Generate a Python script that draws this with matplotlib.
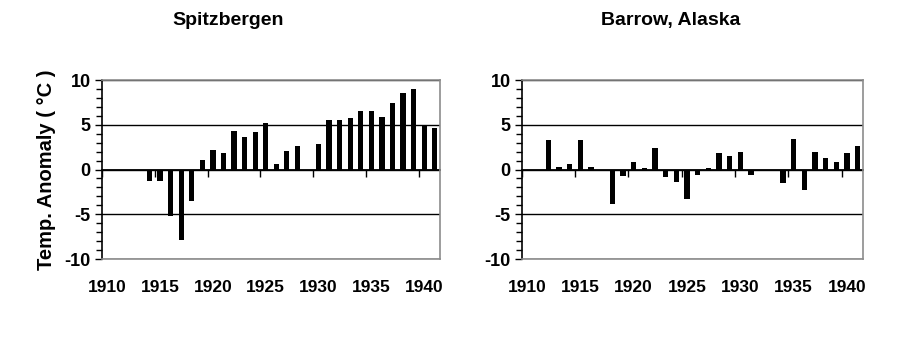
import numpy as np
import matplotlib
matplotlib.use("Agg")
import matplotlib.pyplot as plt
from matplotlib.ticker import MultipleLocator, NullFormatter

plt.rcParams['font.family'] = ['Liberation Sans', 'DejaVu Sans']
plt.rcParams['font.weight'] = 'bold'
plt.rcParams['axes.unicode_minus'] = False

years = list(range(1910, 1942))
nan = np.nan
spitzbergen = [nan, nan, nan, nan, -1.3, -1.3, -5.2, -7.9, -3.5, 1.1,
               2.2, 1.8, 4.3, 3.6, 4.2, 5.2, 0.6, 2.1, 2.6, -0.2,
               2.9, 5.5, 5.5, 5.8, 6.5, 6.5, 5.9, 7.4, 8.5, 9.0,
               5.0, 4.6]
barrow = [nan, nan, 3.3, 0.3, 0.6, 3.3, 0.3, -0.2, -3.8, -0.7,
          0.8, 0.15, 2.45, -0.8, -1.35, -3.3, -0.65, 0.15, 1.8, 1.5,
          1.95, -0.65, -0.2, 0.0, -1.5, 3.45, -2.3, 1.95, 1.25, 0.85,
          1.8, 2.6]
titles = ["Spitzbergen", "Barrow, Alaska"]
ylabel = "Temp. Anomaly ( °C )"
xlabels = [1910, 1915, 1920, 1925, 1930, 1935, 1940]
yticks = [-10, -5, 0, 5, 10]

fig = plt.figure(figsize=(9, 3.38), dpi=100)
fig.patch.set_facecolor('white')

rects = [[0.1133, 0.2337, 0.3756, 0.5296], [0.5797, 0.2337, 0.3792, 0.5296]]
title_x = [228 / 900, 671 / 900]
series = [spitzbergen, barrow]
grey = '#8c8c8c'
fs = 12.5

for i, (rect, vals) in enumerate(zip(rects, series)):
    ax = fig.add_axes(rect)
    ax.set_axisbelow(True)
    ax.bar(years, vals, width=0.5, color='black', zorder=2)
    ax.set_xlim(years[0] - 0.5, years[-1] + 0.5)
    ax.set_ylim(yticks[0], yticks[-1])
    ax.set_yticks(yticks)
    ax.yaxis.set_minor_locator(MultipleLocator(1))
    ax.tick_params(axis='y', which='major', direction='out', length=5,
                   width=1, color='black', labelsize=fs + 0.5, pad=3)
    ax.tick_params(axis='y', which='minor', direction='out', length=4,
                   width=1, color='black')
    ax.set_xticks(xlabels)
    ax.set_xticklabels([str(x) for x in xlabels], fontsize=fs, fontweight='bold')
    ax.tick_params(axis='x', which='both', length=0, pad=15)
    for lab in ax.get_yticklabels():
        lab.set_fontweight('bold')
    ax.yaxis.grid(True, which='major', color='black', linewidth=1)
    for s in ['top', 'right', 'bottom']:
        ax.spines[s].set_color(grey)
        ax.spines[s].set_linewidth(1.2)
    ax.spines['left'].set_color('black')
    ax.spines['left'].set_linewidth(1.2)
    # zero line with category boundary ticks every 5 years
    sec = ax.secondary_xaxis(0.5)
    sec.set_xticks([y - 0.5 for y in years[::5]])
    sec.xaxis.set_major_formatter(NullFormatter())
    sec.xaxis.set_ticks_position('bottom')
    sec.tick_params(axis='x', direction='out', length=5, width=1,
                    color='black', labelbottom=False, labeltop=False)
    for s in sec.spines.values():
        s.set_color('black')
        s.set_linewidth(1.3)
    fig.text(title_x[i], 0.94, titles[i], ha='center', va='center',
             fontsize=14, fontweight='bold')
    if i == 0:
        ax.set_ylabel(ylabel, fontsize=14.5, fontweight='bold', labelpad=6)

fig.savefig('out.png', dpi=100, facecolor='white')
